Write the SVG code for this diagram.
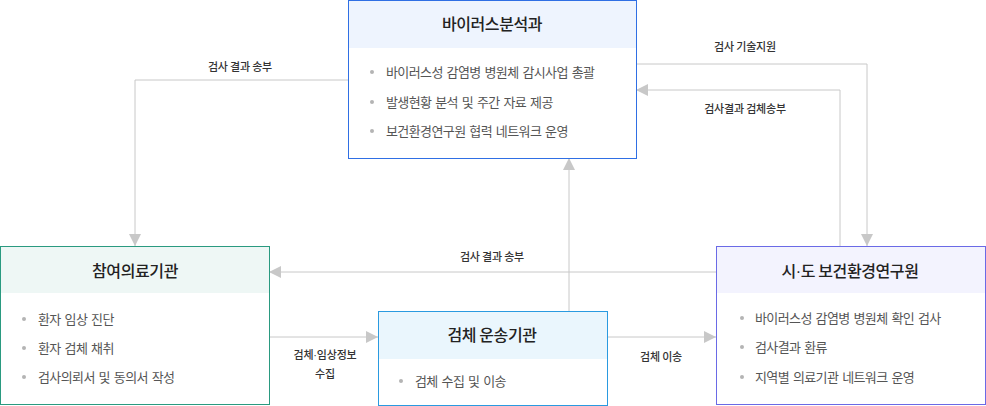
<svg xmlns="http://www.w3.org/2000/svg" width="986" height="406" viewBox="0 0 986 406">
<style>
  text { font-family: "Noto Sans CJK KR", "Noto Sans", sans-serif; }
  .title { font-size: 16px; font-weight: 500; fill: #222; text-anchor: middle; letter-spacing: -0.4px; }
  .item { font-size: 13px; fill: #555; letter-spacing: -0.6px; word-spacing: 1.5px; }
  .dot { fill: #b4b4b4; }
  .lbl { font-size: 11px; font-weight: 500; fill: #333; text-anchor: middle; letter-spacing: -0.2px; }
  .md { font-family: "Liberation Sans", sans-serif; }
  .conn { fill: none; stroke: #c8c8c8; stroke-width: 1; }
</style>
<defs>
  <marker id="arr" viewBox="0 0 10 10" refX="10" refY="5" markerWidth="12" markerHeight="12" markerUnits="userSpaceOnUse" orient="auto">
    <path d="M0,0 L10,5 L0,10 Z" fill="#c8c8c8"/>
  </marker>
</defs>
<rect width="986" height="406" fill="#fff"/>

<g id="connectors">
  <path class="conn" d="M348,80 H135 V246" marker-end="url(#arr)"/>
  <text class="lbl" x="240" y="71">검사 결과 송부</text>
  <path class="conn" d="M636,64 H867 V246" marker-end="url(#arr)"/>
  <text class="lbl" x="745" y="51">검사 기술지원</text>
  <path class="conn" d="M840,246 V90 H636" marker-end="url(#arr)"/>
  <text class="lbl" x="745" y="113">검사결과 검체송부</text>
  <path class="conn" d="M716,272 H269" marker-end="url(#arr)"/>
  <text class="lbl" x="492" y="261">검사 결과 송부</text>
  <path class="conn" d="M269,337 H378" marker-end="url(#arr)"/>
  <text class="lbl" x="325" y="359">검체<tspan class="md">·</tspan>임상정보</text>
  <text class="lbl" x="325" y="378">수집</text>
  <path class="conn" d="M607,337 H716" marker-end="url(#arr)"/>
  <text class="lbl" x="661" y="361">검체 이송</text>
  <path class="conn" d="M569,311 V158" marker-end="url(#arr)"/>
</g>

<g id="virus-analysis">
  <rect x="348.5" y="0.5" width="288" height="158" fill="#fff" stroke="#2f6fe4"/>
  <rect x="349" y="1" width="287" height="47" fill="#eef4fe"/>
  <text class="title" x="492" y="30">바이러스분석과</text>
  <circle class="dot" cx="372" cy="72" r="2"/>
  <text class="item" x="386" y="77">바이러스성 감염병 병원체 감시사업 총괄</text>
  <circle class="dot" cx="372" cy="102" r="2"/>
  <text class="item" x="386" y="107">발생현황 분석 및 주간 자료 제공</text>
  <circle class="dot" cx="372" cy="131" r="2"/>
  <text class="item" x="386" y="136">보건환경연구원 협력 네트워크 운영</text>
</g>

<g id="hospital">
  <rect x="0.5" y="246.5" width="269" height="158" fill="#fff" stroke="#2a9a80"/>
  <rect x="1" y="247" width="268" height="46" fill="#eef7f5"/>
  <text class="title" x="135" y="277">참여의료기관</text>
  <circle class="dot" cx="24" cy="319" r="2"/>
  <text class="item" x="38" y="324">환자 임상 진단</text>
  <circle class="dot" cx="24" cy="348" r="2"/>
  <text class="item" x="38" y="353">환자 검체 채취</text>
  <circle class="dot" cx="24" cy="377" r="2"/>
  <text class="item" x="38" y="382">검사의뢰서 및 동의서 작성</text>
</g>

<g id="transport">
  <rect x="378.5" y="311.5" width="229" height="94" fill="#fff" stroke="#2a9ae0"/>
  <rect x="379" y="312" width="228" height="47" fill="#eaf6fd"/>
  <text class="title" x="492" y="341">검체 운송기관</text>
  <circle class="dot" cx="401" cy="381" r="2"/>
  <text class="item" x="415" y="386">검체 수집 및 이송</text>
</g>

<g id="institute">
  <rect x="716.5" y="246.5" width="269" height="158" fill="#fff" stroke="#6a6ae6"/>
  <rect x="717" y="247" width="268" height="46" fill="#f3f3fe"/>
  <text class="title" x="850" y="277">시<tspan class="md">·</tspan>도 보건환경연구원</text>
  <circle class="dot" cx="742" cy="318" r="2"/>
  <text class="item" x="755" y="323">바이러스성 감염병 병원체 확인 검사</text>
  <circle class="dot" cx="742" cy="347" r="2"/>
  <text class="item" x="755" y="352">검사결과 환류</text>
  <circle class="dot" cx="742" cy="377" r="2"/>
  <text class="item" x="755" y="382">지역별 의료기관 네트워크 운영</text>
</g>
</svg>
